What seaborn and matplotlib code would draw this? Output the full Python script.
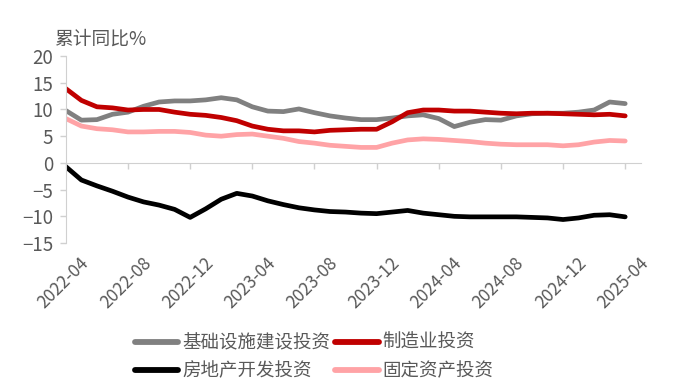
import numpy as np
import pandas as pd
import seaborn as sns
import matplotlib.pyplot as plt
from matplotlib.transforms import ScaledTranslation

# monthly, 2022-04 .. 2025-04
months = pd.date_range('2022-04-01', '2025-04-01', freq='MS').strftime('%Y-%m').tolist()

infra = [9.8, 8.0, 8.1, 9.1, 9.5, 10.6, 11.4, 11.6, 11.6, 11.8, 12.2, 11.8, 10.5,
         9.7, 9.6, 10.1, 9.4, 8.8, 8.4, 8.1, 8.1, 8.4, 8.8, 9.0, 8.3, 6.8, 7.6,
         8.1, 8.0, 8.8, 9.2, 9.3, 9.3, 9.5, 9.9, 11.4, 11.1]
manuf = [13.9, 11.7, 10.5, 10.3, 9.9, 10.0, 10.0, 9.5, 9.1, 8.9, 8.5, 7.9, 6.9,
         6.3, 6.0, 6.0, 5.8, 6.1, 6.2, 6.3, 6.3, 7.7, 9.4, 9.9, 9.9, 9.7, 9.7,
         9.5, 9.3, 9.2, 9.3, 9.3, 9.2, 9.1, 9.0, 9.1, 8.8]
realestate = [-0.7, -3.2, -4.3, -5.3, -6.4, -7.3, -7.9, -8.7, -10.2, -8.6, -6.8,
              -5.7, -6.2, -7.1, -7.8, -8.4, -8.8, -9.1, -9.2, -9.4, -9.5, -9.2,
              -8.9, -9.4, -9.7, -10.0, -10.1, -10.1, -10.1, -10.1, -10.2, -10.3,
              -10.6, -10.3, -9.8, -9.7, -10.1]
fai = [8.3, 6.9, 6.4, 6.2, 5.8, 5.8, 5.9, 5.9, 5.7, 5.2, 5.0, 5.3, 5.4, 5.0, 4.6,
       4.0, 3.7, 3.3, 3.1, 2.9, 2.9, 3.7, 4.3, 4.5, 4.4, 4.2, 4.0, 3.7, 3.5, 3.4,
       3.4, 3.4, 3.2, 3.4, 3.9, 4.2, 4.1]

names = ['基础设施建设投资', '固定资产投资', '房地产开发投资', '制造业投资']
series = [infra, fai, realestate, manuf]
colors = {'基础设施建设投资': '#808080', '制造业投资': '#C00000',
          '房地产开发投资': '#000000', '固定资产投资': '#FFA3A6'}

x = np.arange(len(months))
df = pd.concat([pd.DataFrame({'idx': x, 'value': v, 'series': n})
                for n, v in zip(names, series)])

sns.set_style('white')
plt.rcParams['font.family'] = ['Noto Sans CJK SC', 'DejaVu Sans']
plt.rcParams['font.weight'] = 'light'

fig = plt.figure(figsize=(6.86, 3.92), dpi=100)
ax = fig.add_axes([0.096, 0.38, 0.838, 0.477])

sns.lineplot(data=df, x='idx', y='value', hue='series', hue_order=names,
             palette=colors, linewidth=3.4, sort=False, ax=ax, legend=False)

txt = '#595959'
axc = '#D0D0D0'
ax.set_xlim(0, 37)
ax.set_ylim(-15, 20)
ax.set_yticks(range(-15, 21, 5))
ax.tick_params(axis='y', colors=axc, labelcolor=txt, labelsize=13.5, length=4,
               width=1, direction='out', left=True, pad=5)
for s in ['top', 'right', 'bottom']:
    ax.spines[s].set_visible(False)
ax.spines['left'].set_color(axc)
ax.set_xlabel('')
ax.set_ylabel('')

# tick labels along the bottom, axis line at zero
ticks = x[::4]
ax.set_xticks(ticks)
ax.set_xticklabels([months[i] for i in ticks], rotation=45, ha='right',
                   rotation_mode='anchor', color=txt, fontsize=12.5)
ax.tick_params(axis='x', length=0, pad=8)
shift = ScaledTranslation(0.14, 0, fig.dpi_scale_trans)
for lab in ax.get_xticklabels():
    lab.set_transform(lab.get_transform() + shift)
zero = ax.secondary_xaxis(0, transform=ax.transData)
zero.set_xticks(ticks)
zero.set_xticklabels([])
zero.tick_params(axis='x', colors=axc, length=4, width=1, direction='out')
zero.spines['bottom'].set_color(axc)

fig.text(0.079, 0.9, '累计同比%', fontsize=13.5, color=txt, ha='left', va='center')

order = ['基础设施建设投资', '房地产开发投资', '制造业投资', '固定资产投资']
handles = [plt.Line2D([], [], color=colors[n], linewidth=4.2) for n in order]
fig.legend(handles, order, loc='upper left', bbox_to_anchor=(0.172, 0.19),
           ncol=2, frameon=False, fontsize=13.3, handlelength=2.35,
           handletextpad=0.22, columnspacing=0.28, labelspacing=0.55,
           labelcolor=txt)

fig.savefig('out.png', dpi=100)
